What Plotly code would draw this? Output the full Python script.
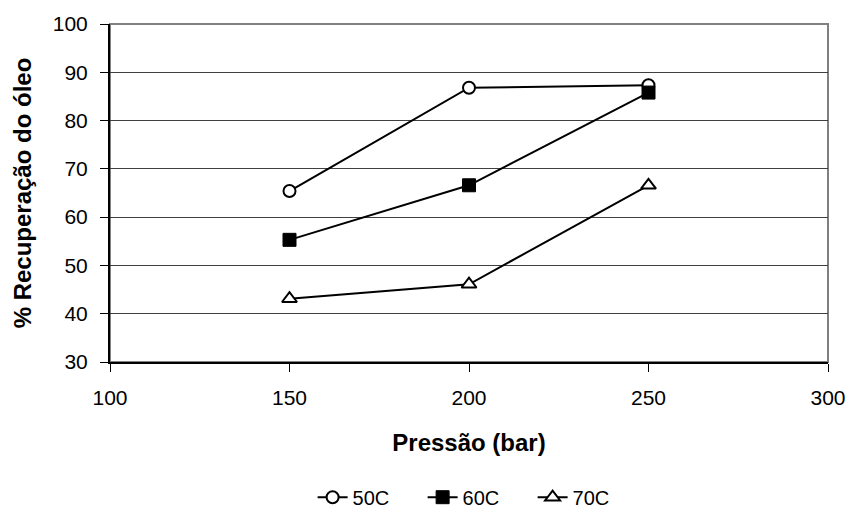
import plotly.graph_objects as go

pressao = [150, 200, 250]
rec_50C = [65.4, 86.8, 87.3]
rec_60C = [55.3, 66.6, 85.8]
rec_70C = [43.1, 46.1, 66.6]

x_ticks = [100, 150, 200, 250, 300]
y_ticks = [30, 40, 50, 60, 70, 80, 90, 100]

fig = go.Figure()
fig.add_trace(go.Scatter(x=pressao, y=rec_50C, name="50C", mode="lines+markers",
                         line=dict(color="black", width=2),
                         marker=dict(symbol="circle", size=12, color="white",
                                     line=dict(color="black", width=2))))
fig.add_trace(go.Scatter(x=pressao, y=rec_60C, name="60C", mode="lines+markers",
                         line=dict(color="black", width=2),
                         marker=dict(symbol="square", size=13, color="black",
                                     line=dict(color="black", width=1))))
fig.add_trace(go.Scatter(x=pressao, y=rec_70C, name="70C", mode="lines+markers",
                         line=dict(color="black", width=2),
                         marker=dict(symbol="triangle-up", size=13, color="white",
                                     line=dict(color="black", width=2))))

fig.add_shape(type="rect", xref="paper", yref="paper", x0=0, y0=0, x1=1, y1=1,
              line=dict(color="#808080", width=2), layer="below")

fig.update_layout(
    width=852, height=512,
    margin=dict(l=110, r=24, t=24, b=150, autoexpand=False),
    paper_bgcolor="white", plot_bgcolor="white",
    font=dict(family="Liberation Sans, Arial, sans-serif", size=21, color="black"),
    showlegend=True,
    legend=dict(orientation="h", x=0.512, xanchor="center", y=-0.40, yanchor="middle",
                font=dict(size=20), traceorder="normal", itemwidth=30,
                entrywidth=65, entrywidthmode="pixels"),
    xaxis=dict(range=[100, 300], tickvals=x_ticks, showgrid=False, zeroline=False,
               showline=True, linecolor="black", linewidth=2,
               ticks="outside", ticklen=8, tickcolor="black",
               tickfont=dict(size=21), ticklabelstandoff=8,
               title=dict(text="<b>Pressão (bar)</b>", font=dict(size=24), standoff=26)),
    yaxis=dict(range=[30, 100], tickvals=y_ticks, showgrid=True, gridcolor="#404040",
               gridwidth=1, zeroline=False,
               showline=True, linecolor="black", linewidth=2,
               ticks="outside", ticklen=8, tickcolor="black",
               tickfont=dict(size=21), ticklabelstandoff=8,
               title=dict(text="<b>% Recuperação do óleo</b>", font=dict(size=24), standoff=14)),
)

fig.write_html("out.html")
